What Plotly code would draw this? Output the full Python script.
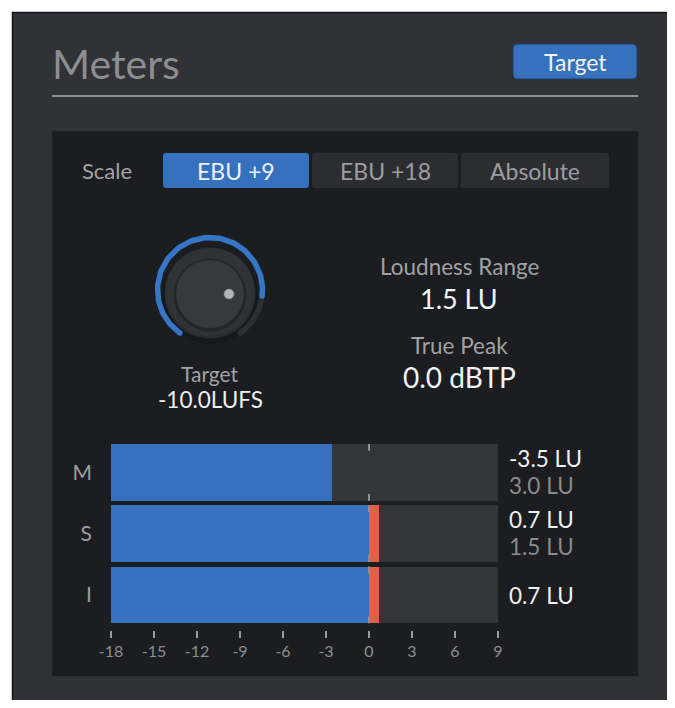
import math
import plotly.graph_objects as go

# ---------------- data ----------------
channels = ["M", "S", "I"]
meter_values = [-2.6, 0.7, 0.7]          # bar levels read from the meters (LU)
value_labels = ["-3.5 LU", "0.7 LU", "0.7 LU"]
secondary_labels = ["3.0 LU", "1.5 LU", ""]
scale_ticks = [-18, -15, -12, -9, -6, -3, 0, 3, 6, 9]
scale_options = ["EBU +9", "EBU +18", "Absolute"]
selected_scale = "EBU +9"
target_lufs = -10.0
knob_range = [-60.0, 0.0]
loudness_range_lu = 1.5
true_peak_dbtp = 0.0
target_marker = 0.0

FONT = "Lato"
PAGE_W, PAGE_H = 675, 708
OFF = 8                      # default body margin of the html page
W, H = PAGE_W - 2 * OFF, PAGE_H - 2 * OFF
BLUE = "#3571bd"
RED = "#e0604a"


def px_x(x):
    return (x - OFF) / W


def px_y(y):
    return 1 - (y - OFF) / H


fig = go.Figure()
shapes = []
ann = []


def rect(x0, y0, x1, y1, fill, line=None, lw=0, layer="below"):
    shapes.append(dict(type="rect", xref="x", yref="y", x0=x0, y0=y0, x1=x1, y1=y1,
                       fillcolor=fill, line=dict(color=line or fill, width=lw), layer=layer))


def rrect(x0, y0, x1, y1, r, fill, line=None, lw=0):
    p = (f"M {x0+r},{y0} L {x1-r},{y0} Q {x1},{y0} {x1},{y0+r} L {x1},{y1-r} "
         f"Q {x1},{y1} {x1-r},{y1} L {x0+r},{y1} Q {x0},{y1} {x0},{y1-r} "
         f"L {x0},{y0+r} Q {x0},{y0} {x0+r},{y0} Z")
    shapes.append(dict(type="path", xref="x", yref="y", path=p, fillcolor=fill,
                       line=dict(color=line or fill, width=lw), layer="below"))


def circ(cx, cy, r, fill, line=None, lw=0):
    shapes.append(dict(type="circle", xref="x", yref="y", x0=cx-r, x1=cx+r, y0=cy-r, y1=cy+r,
                       fillcolor=fill, line=dict(color=line or fill, width=lw), layer="below"))


def text(x, y, s, size, color, xanchor="center"):
    ann.append(dict(x=x, y=y, xref="x", yref="y", text=s, showarrow=False,
                    xanchor=xanchor, yanchor="middle",
                    font=dict(family=FONT, size=size, color=color)))


# light margin at top/left like the reference screenshot
rect(0, 0, 720, 12.5, "#ffffff")
rect(0, 0, 12.5, 720, "#ffffff")
# outer panel
rect(12.5, 12.5, 720, 720, "#303237", "#141516", 1.5)
# title
text(50, 63, "Meters", 41, "#8d8e90", "left")
rrect(513, 44, 637, 79, 4, BLUE, "#1d3a63", 1)
text(575, 62, "Target", 23, "#f0f3f8")
shapes.append(dict(type="line", xref="x", yref="y", x0=52, x1=638, y0=96, y1=96,
                   line=dict(color="#8f9092", width=2), layer="below"))
# inner panel
rect(52, 131, 638.5, 676.5, "#1b1d20", "#2a2c30", 1)

# scale selector
text(107, 170, "Scale", 22, "#a3a4a6")
btn_x = [(163, 309), (312, 458), (461, 609)]
for (bx0, bx1), lab in zip(btn_x, scale_options):
    sel = lab == selected_scale
    rrect(bx0, 153, bx1, 188, 3, BLUE if sel else "#2b2d31")
    text((bx0 + bx1) / 2, 170.5, lab, 23, "#eef2f8" if sel else "#9c9da0")

# knob
kcx, kcy, kr = 210, 290, 52.5
a0, a1 = 235.0, -55.0
frac = (target_lufs - knob_range[0]) / (knob_range[1] - knob_range[0])
a_val = a0 + (a1 - a0) * frac


def arc(start, end, n=120):
    xs, ys = [], []
    for i in range(n + 1):
        a = math.radians(start + (end - start) * i / n)
        xs.append(kcx + kr * math.cos(a))
        ys.append(kcy - kr * math.sin(a))
    return xs, ys


gx, gy = arc(a_val, a1)
bx, by = arc(a0, a_val)
fig.add_trace(go.Scatter(x=gx, y=gy, mode="lines", line=dict(color="#2d2f33", width=5.5),
                         hoverinfo="skip", showlegend=False, xaxis="x", yaxis="y"))
fig.add_trace(go.Scatter(x=[gx[-1]], y=[gy[-1]], mode="markers",
                         marker=dict(color="#2d2f33", size=5.5), hoverinfo="skip",
                         showlegend=False, xaxis="x", yaxis="y"))
fig.add_trace(go.Scatter(x=bx, y=by, mode="lines", line=dict(color="#3676c6", width=5.5),
                         hoverinfo="skip", showlegend=False, xaxis="x", yaxis="y"))
fig.add_trace(go.Scatter(x=[bx[0], bx[-1]], y=[by[0], by[-1]], mode="markers",
                         marker=dict(color="#3676c6", size=5.5), hoverinfo="skip",
                         showlegend=False, xaxis="x", yaxis="y"))
# knob body
circ(210, 296, 48, "#17181b")
circ(210, 293, 45.5, "#2b2d30")
circ(210, 292, 44, "#303235")
circ(210, 295, 36.5, "#232528")
circ(210, 294, 34, "#37393c")
circ(229, 294, 5, "#b4b5b7", "#8a8b8d", 0.5)

text(210, 373, "Target", 21, "#a1a2a4")
text(210, 399, f"{target_lufs:.1f}LUFS", 22.5, "#eceef0")

# stats
text(459, 266, "Loudness Range", 22.5, "#a1a2a4")
text(459, 298, f"{loudness_range_lu:.1f} LU", 27, "#f2f3f5")
text(459, 345, "True Peak", 22.5, "#a1a2a4")
text(459, 377, f"{true_peak_dbtp:.1f} dBTP", 28, "#f2f3f5")

# ---------------- meters (real bar axes) ----------------
xmin, xmax = scale_ticks[0], scale_ticks[-1]
blue_len = [min(v, 0) - xmin for v in meter_values]
red_len = [max(v, 0) for v in meter_values]
bar_w = 0.925
fig.add_trace(go.Bar(y=channels, x=[xmax - xmin] * 3, base=xmin, orientation="h",
                     marker=dict(color="#333539", line=dict(width=0)), width=bar_w,
                     xaxis="x2", yaxis="y2", hoverinfo="skip", showlegend=False))
fig.add_trace(go.Bar(y=channels, x=blue_len, base=xmin, orientation="h",
                     marker=dict(color=BLUE, line=dict(width=0)), width=bar_w,
                     xaxis="x2", yaxis="y2", hoverinfo="skip", showlegend=False))
fig.add_trace(go.Bar(y=channels, x=red_len, base=0, orientation="h",
                     marker=dict(color=RED, line=dict(width=0)), width=bar_w,
                     xaxis="x2", yaxis="y2", hoverinfo="skip", showlegend=False))

# target marker dashes at 0 on each row
for i in range(3):
    top = i + bar_w / 2
    bot = i - bar_w / 2
    for ya, yb in ((top, top - 0.11), (bot, bot + 0.11)):
        shapes.append(dict(type="line", xref="x2", yref="y2", x0=target_marker, x1=target_marker,
                           y0=ya, y1=yb, line=dict(color="#8e9094", width=2), layer="above"))

# right-hand readouts
row_center = {"M": 472.3, "S": 533.3, "I": 595.0}
for ch, v, s in zip(channels, value_labels, secondary_labels):
    c = row_center[ch]
    if s:
        text(507, c - 13.5, v, 22.5, "#f0f1f3", "left")
        text(507, c + 13.5, s, 22.5, "#8a8b8e", "left")
    else:
        text(507, c, v, 22.5, "#f0f1f3", "left")

fig.update_layout(
    template="none",
    width=W, height=H, margin=dict(l=0, r=0, t=0, b=0, pad=0), autosize=False,
    paper_bgcolor="#303237", plot_bgcolor="rgba(0,0,0,0)",
    barmode="overlay", bargap=0,
    shapes=shapes, annotations=ann,
    xaxis=dict(domain=[0, 1], range=[OFF, OFF + W], visible=False, fixedrange=True,
               automargin=False),
    yaxis=dict(domain=[0, 1], range=[OFF + H, OFF], visible=False, fixedrange=True,
               automargin=False),
    xaxis2=dict(domain=[px_x(111), px_x(498)], range=[xmin, xmax], anchor="y2",
                tickvals=scale_ticks, ticktext=[str(t) for t in scale_ticks],
                ticks="outside", ticklen=7, tickwidth=1.5, tickcolor="#9a9b9e",
                showgrid=False, zeroline=False, showline=False, automargin=False,
                tickfont=dict(family=FONT, size=16, color="#8d8e91"), fixedrange=True),
    yaxis2=dict(domain=[px_y(630), px_y(444)], anchor="x2", type="category",
                categoryorder="array", categoryarray=["I", "S", "M"],
                range=[-0.571, 2.462], showgrid=False, zeroline=False, showline=False,
                ticks="", ticklabelstandoff=18, automargin=False,
                tickfont=dict(family=FONT, size=21, color="#9c9da0"), fixedrange=True),
    showlegend=False,
)

fig.write_html("out.html")
